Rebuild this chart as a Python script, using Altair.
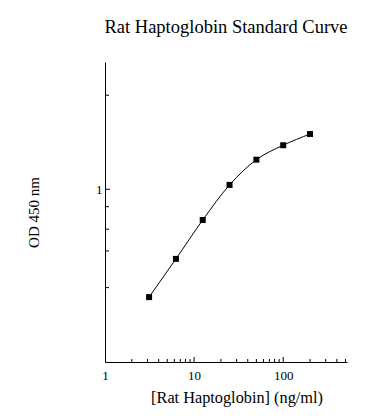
import altair as alt
import pandas as pd

# Standard curve data
conc = [3.125, 6.25, 12.5, 25, 50, 100, 200]
od = [0.437, 0.586, 0.790, 1.034, 1.255, 1.402, 1.528]

# Axis tick values
x_minor = [2, 3, 4, 5, 6, 7, 8, 9, 20, 30, 40, 50, 60, 70, 80, 90, 200, 300, 400, 500]
x_major = [10, 100]
y_minor = [2.058, 0.875, 0.736, 0.623, 0.470]
y_major = [1]
x_labels = [1, 10, 100]
y_labels = [1]

FONT = "Liberation Serif, Times New Roman, serif"
W, H = 242, 300

df = pd.DataFrame({"conc": conc, "od": od})
xs = alt.Scale(type="log", domain=[1, 520], nice=False)
ys = alt.Scale(type="log", domain=[0.2656, 2.656], nice=False)

x_axis = alt.Axis(values=x_labels, ticks=False, grid=False, labelFont=FONT,
                  labelFontSize=13, labelColor="black", labelPadding=7,
                  domainColor="black", labelFlush=False,
                  title="[Rat Haptoglobin] (ng/ml)", titleFont=FONT,
                  titleFontSize=16.3, titleFontWeight="normal", titleColor="black",
                  titleX=131.5, titleY=40, titleAlign="center",
                  titleBaseline="alphabetic")
y_axis = alt.Axis(values=y_labels, ticks=False, grid=False, labelFont=FONT,
                  labelFontSize=13, labelColor="black", labelPadding=3,
                  domainColor="black",
                  title="OD 450 nm", titleFont=FONT, titleFontSize=15,
                  titleFontWeight="normal", titleColor="black",
                  titleAngle=270, titleX=-72, titleY=150, titleAlign="center",
                  titleBaseline="middle")

X = lambda: alt.X("conc:Q", scale=xs, axis=x_axis)
Y = lambda: alt.Y("od:Q", scale=ys, axis=y_axis)

line = alt.Chart(df).mark_line(color="black", strokeWidth=1, interpolate="monotone").encode(
    x=X(), y=Y())
pts = alt.Chart(df).mark_square(color="black", size=36, opacity=1).encode(
    x=X(), y=Y())

xmin_df = pd.DataFrame({"conc": x_minor})
xmaj_df = pd.DataFrame({"conc": x_major})
ymin_df = pd.DataFrame({"od": y_minor})
ymaj_df = pd.DataFrame({"od": y_major})

xminr = alt.Chart(xmin_df).mark_rule(color="black", strokeWidth=1).encode(
    x=X(), y=alt.value(H), y2=alt.value(H - 3))
xmajr = alt.Chart(xmaj_df).mark_rule(color="black", strokeWidth=1).encode(
    x=X(), y=alt.value(H), y2=alt.value(H - 5))
yminr = alt.Chart(ymin_df).mark_rule(color="black", strokeWidth=1).encode(
    y=Y(), x=alt.value(0), x2=alt.value(4))
ymajr = alt.Chart(ymaj_df).mark_rule(color="black", strokeWidth=1).encode(
    y=Y(), x=alt.value(0), x2=alt.value(5))

chart = alt.layer(line, pts, xminr, xmajr, yminr, ymajr).properties(
    width=W, height=H,
    title=alt.TitleParams("Rat Haptoglobin Standard Curve", font=FONT, fontSize=18.5,
                          fontWeight="normal", color="black", anchor="middle",
                          offset=26),
    autosize=alt.AutoSizeParams(type="none"),
    padding={"left": 97, "top": 54, "right": 33, "bottom": 48},
).configure_view(stroke=None)

chart.save("out.html", embed_options={"renderer": "svg", "actions": False})
